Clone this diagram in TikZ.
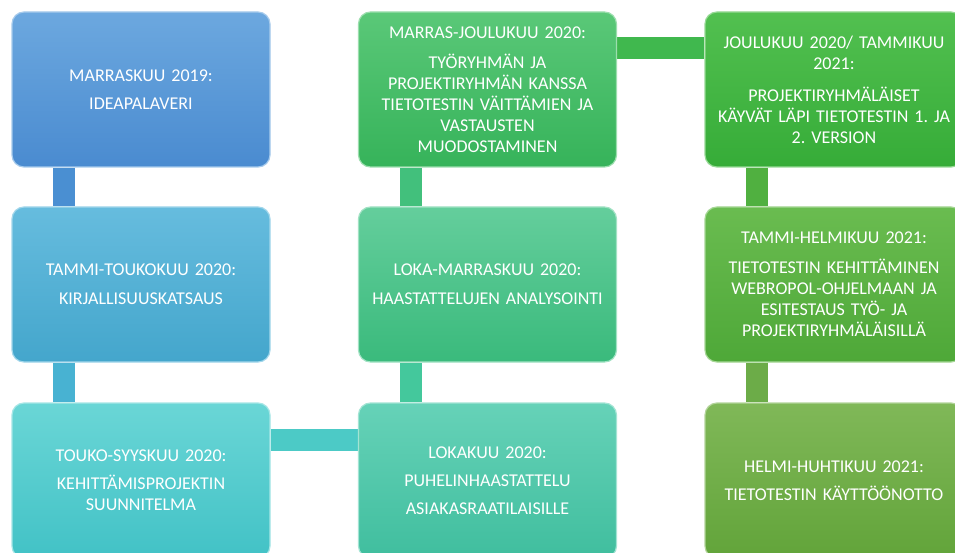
\documentclass[tikz,border=0pt]{standalone}
\usepackage{fontspec}
\setmainfont{Carlito}
\usetikzlibrary{backgrounds}
\frenchspacing
\definecolor{aT}{HTML}{6CA8DF}\definecolor{aB}{HTML}{4A8BD0}
\definecolor{bT}{HTML}{66BCDE}\definecolor{bB}{HTML}{44A6CC}
\definecolor{cT}{HTML}{6AD6D6}\definecolor{cB}{HTML}{42C2C6}
\definecolor{dT}{HTML}{66D2B8}\definecolor{dB}{HTML}{40BE9E}
\definecolor{eT}{HTML}{64CE9C}\definecolor{eB}{HTML}{3ABA7C}
\definecolor{fT}{HTML}{5AC878}\definecolor{fB}{HTML}{36B35A}
\definecolor{gT}{HTML}{52C050}\definecolor{gB}{HTML}{36AC38}
\definecolor{hT}{HTML}{6ABC50}\definecolor{hB}{HTML}{4EA838}
\definecolor{iT}{HTML}{80B858}\definecolor{iB}{HTML}{62A43A}
\definecolor{cab}{HTML}{4A8FD2}
\definecolor{cbc}{HTML}{48B2D2}
\definecolor{ccd}{HTML}{4CCAC6}
\definecolor{cde}{HTML}{44C89C}
\definecolor{cef}{HTML}{42C07C}
\definecolor{cfg}{HTML}{40B84E}
\definecolor{cgh}{HTML}{50B040}
\definecolor{chi}{HTML}{6CAC48}
\begin{document}
\begin{tikzpicture}[x=1pt,y=-1pt,
  box/.style={rounded corners=12pt, minimum width=258pt, minimum height=155pt,
    text width=252pt, align=center, text=white, inner sep=0pt,
    font=\fontsize{18}{21}\selectfont, line width=1.2pt},
  conn/.style={line width=22pt}]
\useasboundingbox (0,0) rectangle (955,553);
\node[box, top color=aT, bottom color=aB, draw=aT!60!white] (b1) at (141,89.5)
  {MARRASKUU 2019:\\[7pt]IDEAPALAVERI};
\node[box, top color=bT, bottom color=bB, draw=bT!60!white] (b2) at (141,284.5)
  {TAMMI-TOUKOKUU 2020:\\[8pt]KIRJALLISUUSKATSAUS};
\node[box, top color=cT, bottom color=cB, draw=cT!60!white] (b3) at (141,480.5)
  {TOUKO-SYYSKUU 2020:\\[7pt]KEHITTÄMISPROJEKTIN\\SUUNNITELMA};
\node[box, top color=dT, bottom color=dB, draw=dT!60!white] (b4) at (487.5,480.5)
  {LOKAKUU 2020:\\[7pt]PUHELINHAASTATTELU\\[7pt]ASIAKASRAATILAISILLE};
\node[box, top color=eT, bottom color=eB, draw=eT!60!white] (b5) at (487.5,284.5)
  {LOKA-MARRASKUU 2020:\\[8pt]HAASTATTELUJEN ANALYSOINTI};
\node[box, top color=fT, bottom color=fB, draw=fT!60!white] (b6) at (487.5,89.5)
  {MARRAS-JOULUKUU 2020:\\[9pt]TYÖRYHMÄN JA\\PROJEKTIRYHMÄN KANSSA\\TIETOTESTIN VÄITTÄMIEN JA\\VASTAUSTEN\\MUODOSTAMINEN};
\node[box, top color=gT, bottom color=gB, draw=gT!60!white] (b7) at (834,89.5)
  {JOULUKUU 2020/ TAMMIKUU\\2021:\\[11pt]PROJEKTIRYHMÄLÄISET\\KÄYVÄT LÄPI TIETOTESTIN 1. JA\\2. VERSION};
\node[box, top color=hT, bottom color=hB, draw=hT!60!white] (b8) at (834,284.5)
  {TAMMI-HELMIKUU 2021:\\[9pt]TIETOTESTIN KEHITTÄMINEN\\WEBROPOL-OHJELMAAN JA\\ESITESTAUS TYÖ- JA\\PROJEKTIRYHMÄLÄISILLÄ};
\node[box, top color=iT, bottom color=iB, draw=iT!60!white] (b9) at (834,480.5)
  {HELMI-HUHTIKUU 2021:\\[7pt]TIETOTESTIN KÄYTTÖÖNOTTO};
\begin{scope}[on background layer]
\fill[white] (0,0) rectangle (955,553);
\draw[conn, cab] ([xshift=-77pt]b1.south) -- ([xshift=-77pt]b2.north);
\draw[conn, cbc] ([xshift=-77pt]b2.south) -- ([xshift=-77pt]b3.north);
\draw[conn, ccd] ([yshift=40.5pt]b3.east) -- ([yshift=40.5pt]b4.west);
\draw[conn, cde] ([xshift=-76.5pt]b4.north) -- ([xshift=-76.5pt]b5.south);
\draw[conn, cef] ([xshift=-76.5pt]b5.north) -- ([xshift=-76.5pt]b6.south);
\draw[conn, cfg] ([yshift=41pt]b6.east) -- ([yshift=41pt]b7.west);
\draw[conn, cgh] ([xshift=-77.5pt]b7.south) -- ([xshift=-77.5pt]b8.north);
\draw[conn, chi] ([xshift=-77.5pt]b8.south) -- ([xshift=-77.5pt]b9.north);
\end{scope}
\end{tikzpicture}
\end{document}
